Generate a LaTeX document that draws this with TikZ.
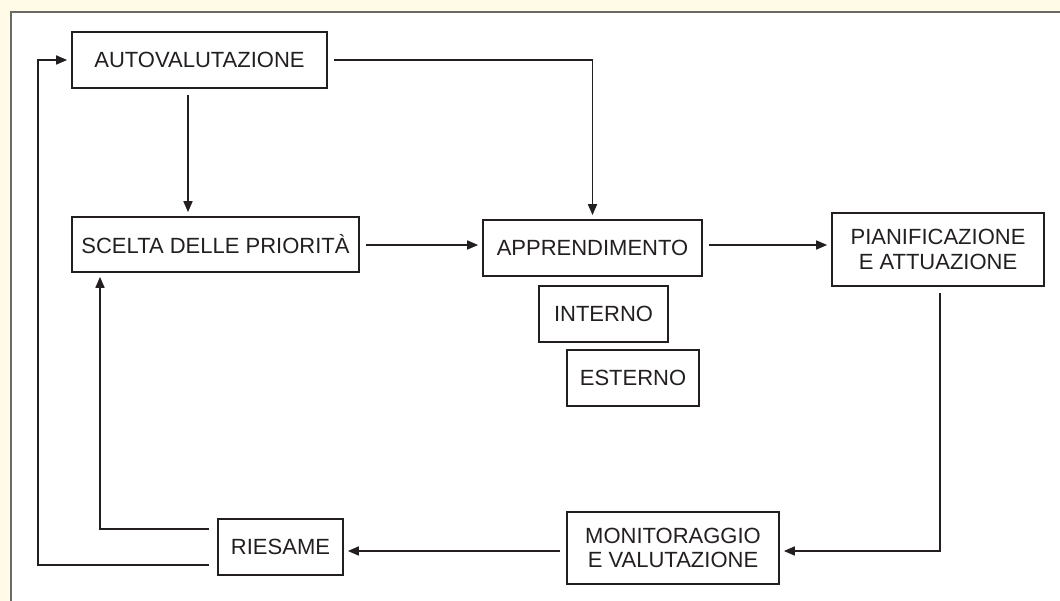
\documentclass[tikz,border=0pt]{standalone}
\usepackage{fontspec}
\setmainfont{Liberation Sans}
\usetikzlibrary{arrows.meta}
\definecolor{ink}{HTML}{231F20}
\definecolor{paper}{HTML}{FFFBE6}
\definecolor{frame}{HTML}{6A6A66}
\begin{document}
\begin{tikzpicture}[x=1pt,y=-1pt,
  box/.style={draw=ink,line width=1.7pt,fill=white,inner sep=0pt,align=center,
    text=ink,font=\fontsize{22}{24.5}\selectfont},
  arr/.style={draw=ink,line width=1.7pt,-{Triangle[length=11pt,width=9pt]},
    shorten <=6pt,shorten >=4pt}]
  % page background and white panel
  \fill[paper] (0,0) rectangle (1060,601);
  \useasboundingbox (0,0) rectangle (1060,601);
  \fill[white] (11,12) rectangle (1070,611);
  \draw[frame,line width=1.8pt] (11,611) -- (11,12) -- (1070,12);

  % boxes
  \node[box,minimum width=255pt,minimum height=56pt] (auto) at (199.5,60) {AUTOVALUTAZIONE};
  \node[box,minimum width=287pt,minimum height=55pt] (scelta) at (215.5,244.5) {SCELTA DELLE PRIORITÀ};
  \node[box,minimum width=219pt,minimum height=56pt] (appr) at (592.5,248) {APPRENDIMENTO};
  \node[box,minimum width=129pt,minimum height=56pt] (int) at (603.5,314) {INTERNO};
  \node[box,minimum width=132pt,minimum height=56pt] (est) at (633,378) {ESTERNO};
  \node[box,minimum width=212pt,minimum height=73pt] (plan) at (938,249.5) {PIANIFICAZIONE\\E ATTUAZIONE};
  \node[box,minimum width=212pt,minimum height=72pt] (mon) at (673,548) {MONITORAGGIO\\E VALUTAZIONE};
  \node[box,minimum width=125pt,minimum height=56pt] (ries) at (280.5,547) {RIESAME};

  % routing guides
  \coordinate (xdown) at (188,0);
  \coordinate (xplan) at (940,0);
  \coordinate (xinner) at (100,0);
  \coordinate (xouter) at (38,0);
  \coordinate (yrow) at (0,245);
  \coordinate (ybottom) at (0,551);
  \coordinate (yinner) at (0,529);
  \coordinate (youter) at (0,565);

  % connectors
  \draw[arr] (auto.south -| xdown) -- (scelta.north -| xdown);
  \draw[arr] (auto.east) -| (appr.north);
  \draw[arr] (scelta.east |- yrow) -- (appr.west |- yrow);
  \draw[arr] (appr.east |- yrow) -- (plan.west |- yrow);
  \draw[arr] (plan.south -| xplan) |- (mon.east |- ybottom);
  \draw[arr] (mon.west |- ybottom) -- (ries.east |- ybottom);
  \draw[arr,shorten <=8pt] (ries.west |- yinner) -| (scelta.south -| xinner);
  \draw[arr,shorten <=8pt] (ries.west |- youter) -| (xouter |- auto.west) -- (auto.west);
\end{tikzpicture}
\end{document}
